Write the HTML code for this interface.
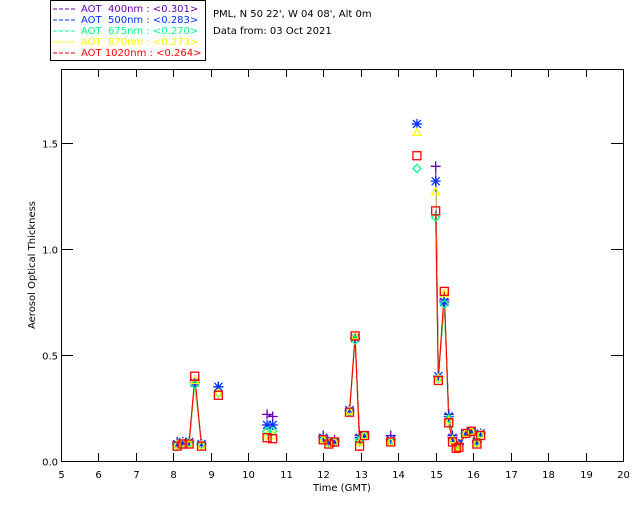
<!DOCTYPE html>
<html><head><meta charset="utf-8"><style>
body{margin:0;background:#fff;}
svg{display:block;font-family:"DejaVu Sans","Liberation Sans",sans-serif;}
</style></head><body>
<svg id="c" width="640" height="512" viewBox="0 0 640 512">
<rect x="50.5" y="0.5" width="155" height="60" fill="none" stroke="#000"/>
<g font-size="10">
<g><line x1="53" y1="9" x2="75" y2="9" stroke="#6a00b0" stroke-dasharray="4,2"/><text x="81" y="12" fill="#6a00b0" xml:space="preserve">AOT  400nm : &lt;0.301&gt;</text></g>
<g><line x1="53" y1="20" x2="75" y2="20" stroke="#0030ff" stroke-dasharray="4,2"/><text x="81" y="23" fill="#0030ff" xml:space="preserve">AOT  500nm : &lt;0.283&gt;</text></g>
<g><line x1="53" y1="31" x2="75" y2="31" stroke="#00ff80" stroke-dasharray="4,2"/><text x="81" y="34" fill="#00ff80" xml:space="preserve">AOT  675nm : &lt;0.270&gt;</text></g>
<g><line x1="53" y1="42" x2="75" y2="42" stroke="#ffff00" stroke-dasharray="4,2"/><text x="81" y="45" fill="#ffff00" xml:space="preserve">AOT  870nm : &lt;0.273&gt;</text></g>
<g><line x1="53" y1="53" x2="75" y2="53" stroke="#ff0000" stroke-dasharray="4,2"/><text x="81" y="56" fill="#ff0000" xml:space="preserve">AOT 1020nm : &lt;0.264&gt;</text></g>
</g>
<text x="213" y="17" font-size="10">PML, N 50 22', W 04 08', Alt 0m</text>
<text x="213" y="34" font-size="10">Data from: 03 Oct 2021</text>
<text x="342" y="491" font-size="10" text-anchor="middle">Time (GMT)</text>
<text transform="translate(35,265) rotate(-90)" font-size="10" text-anchor="middle">Aerosol Optical Thickness</text>
<g id="axes"></g>
<g id="marks"></g>
</svg>
<script>
const times=[8.1,8.25,8.42,8.57,8.75,9.2,10.5,10.65,12.0,12.15,12.3,12.7,12.85,12.97,13.1,13.8,14.5,15.0,15.07,15.23,15.35,15.45,15.55,15.62,15.8,15.95,16.1,16.2];
const aot400=[0.09,0.09,0.09,0.38,0.08,0.35,0.22,0.21,0.12,0.09,0.10,0.24,0.58,0.12,0.12,0.12,null,1.39,0.40,0.76,0.22,0.12,0.09,0.08,0.13,0.14,0.09,0.13];
const aot500=[0.08,0.09,0.09,0.37,0.08,0.35,0.17,0.17,0.11,0.09,0.09,0.24,0.58,0.11,0.12,0.10,1.59,1.32,0.40,0.75,0.21,0.11,0.08,0.08,0.13,0.14,0.09,0.13];
const aot675=[0.075,0.085,0.085,0.36,0.075,0.32,0.14,0.14,0.10,0.085,0.09,0.23,0.57,0.10,0.12,0.09,1.38,1.15,0.39,0.74,0.20,0.10,0.07,0.07,0.13,0.14,0.085,0.125];
const aot870=[0.075,0.085,0.08,0.38,0.075,0.32,0.12,0.12,0.10,0.085,0.09,0.235,0.59,0.09,0.12,0.09,1.55,1.27,0.39,0.79,0.19,0.10,0.065,0.07,0.13,0.14,0.085,0.125];
const aot1020=[0.07,0.08,0.08,0.40,0.07,0.31,0.11,0.105,0.10,0.08,0.09,0.23,0.59,0.07,0.12,0.09,1.44,1.18,0.38,0.80,0.18,0.09,0.06,0.065,0.13,0.14,0.08,0.12];
const xTicks=[5,6,7,8,9,10,11,12,13,14,15,16,17,18,19,20];
const yTicks=[0,0.5,1.0,1.5];
const yTickLabels=["0.0","0.5","1.0","1.5"];
const X0=61,X1=623,Y0=461,YT=69,XMIN=5,XMAX=20,YMAX=(461-69)/212;
const sx=t=>X0+(t-XMIN)/(XMAX-XMIN)*(X1-X0);
const sy=v=>Y0-v/YMAX*(Y0-YT);
const NS="http://www.w3.org/2000/svg";
function mk(tag,attrs,parent){const e=document.createElementNS(NS,tag);for(const k in attrs)e.setAttribute(k,attrs[k]);parent.appendChild(e);return e;}
const axes=document.getElementById('axes');
const frame=mk('rect',{x:X0+0.5,y:YT+0.5,width:X1-X0,height:Y0-YT,fill:'none',stroke:'#000'},axes);


xTicks.forEach(t=>{const x=Math.round(sx(t))+0.5;
 const a=mk('line',{x1:x,y1:Y0,x2:x,y2:Y0-8,stroke:'#000'},axes);
 
 
 const b=mk('line',{x1:x,y1:YT,x2:x,y2:YT+8,stroke:'#000'},axes);
 
 
 const l=mk('text',{x:x,y:Y0+17,'font-size':10,'text-anchor':'middle'},axes);l.textContent=t;
 
 
});
yTicks.forEach((v,i)=>{const y=Math.round(sy(v))+0.5;
 const a=mk('line',{x1:X0,y1:y,x2:X0+12,y2:y,stroke:'#000'},axes);
 
 
 const b=mk('line',{x1:X1,y1:y,x2:X1-12,y2:y,stroke:'#000'},axes);
 
 
 const l=mk('text',{x:X0-3,y:y+4,'font-size':10,'text-anchor':'end'},axes);l.textContent=yTickLabels[i];
 
 
});
const series=[
 {name:'400',vals:aot400,c:'#6a00b0',m:'plus'},
 {name:'500',vals:aot500,c:'#0030ff',m:'star'},
 {name:'675',vals:aot675,c:'#00ff80',m:'diamond'},
 {name:'870',vals:aot870,c:'#ffff00',m:'tri'},
 {name:'1020',vals:aot1020,c:'#ff0000',m:'square'}];
const marks=document.getElementById('marks');
series.forEach(s=>{
 const g=mk('g',{},marks);
 
 
 let d='';
 for(let i=0;i<times.length;i++){const v=s.vals[i];if(v==null)continue;
  const x=sx(times[i]),y=sy(v);
  const p=i>0?s.vals[i-1]:null;
  if(i>0&&p!=null&&times[i]-times[i-1]<=0.2)d+='L'+x.toFixed(1)+' '+y.toFixed(1);else d+='M'+x.toFixed(1)+' '+y.toFixed(1);}
 const ln=mk('path',{d:d,fill:'none',stroke:s.c,'stroke-width':1.1},g);
 
 
});
series.forEach(s=>{
 const g=mk('g',{fill:'none',stroke:s.c,'stroke-width':1.3},marks);
 
 
 for(let i=0;i<times.length;i++){const v=s.vals[i];if(v==null)continue;
  const x=sx(times[i]),y=sy(v);let e;
  if(s.m==='plus')e=mk('path',{d:`M${x-5} ${y}H${x+5}M${x} ${y-5}V${y+5}`},g);
  else if(s.m==='star')e=mk('path',{d:`M${x-5} ${y}H${x+5}M${x} ${y-5}V${y+5}M${x-4} ${y-4}L${x+4} ${y+4}M${x-4} ${y+4}L${x+4} ${y-4}`},g);
  else if(s.m==='diamond')e=mk('path',{d:`M${x} ${y-4}L${x+4} ${y}L${x} ${y+4}L${x-4} ${y}Z`},g);
  else if(s.m==='tri')e=mk('path',{d:`M${x} ${y-4}L${x+4} ${y+3}L${x-4} ${y+3}Z`},g);
  else e=mk('rect',{x:x-4,y:y-4,width:8,height:8},g);
  
  
 }
});
</script>
</body></html>
